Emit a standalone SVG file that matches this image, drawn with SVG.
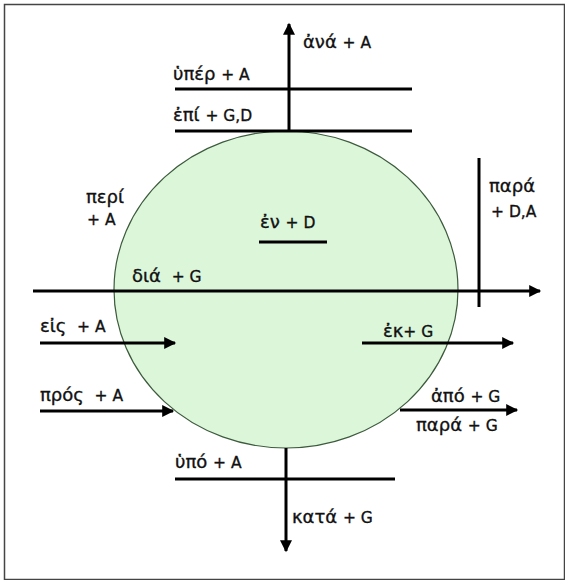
<svg xmlns="http://www.w3.org/2000/svg" width="565" height="580" viewBox="0 0 565 580">
<style>
.ln{stroke:#000;stroke-width:3;fill:none}
.ar{stroke:#000;stroke-width:3;fill:none;marker-end:url(#ah)}
.t{font-family:"DejaVu Sans","Liberation Sans",sans-serif;font-size:18px;fill:#111;stroke:#111;stroke-width:0.35}
.s{font-size:15.5px}
</style>
<defs>
<marker id="ah" viewBox="0 0 10 10" refX="9" refY="5" markerWidth="4.5" markerHeight="4" orient="auto" markerUnits="strokeWidth">
<path d="M0,0 L10,5 L0,10 z" fill="#000"/>
</marker>
</defs>
<rect x="0" y="0" width="565" height="580" fill="#fff"/>
<rect x="4.5" y="4.5" width="560" height="575" fill="none" stroke="#444" stroke-width="1.5"/>
<g id="circle">
<ellipse cx="286" cy="289.5" rx="172" ry="158.5" fill="#dcf6da" stroke="#3c5a3c" stroke-width="1.2"/>
</g>
<g id="connectors">
<line class="ar" x1="289" y1="131" x2="289" y2="24"/>
<line class="ln" x1="175" y1="89" x2="412" y2="89"/>
<line class="ln" x1="175" y1="131" x2="412" y2="131"/>
<line class="ar" x1="33" y1="291" x2="540" y2="291"/>
<line class="ln" x1="479" y1="158" x2="479" y2="307"/>
<line class="ln" x1="259" y1="242" x2="327" y2="242"/>
<line class="ar" x1="40" y1="343" x2="175" y2="343"/>
<line class="ar" x1="40" y1="411" x2="173" y2="411"/>
<line class="ar" x1="362" y1="343" x2="513" y2="343"/>
<line class="ar" x1="400" y1="410" x2="517" y2="410"/>
<line class="ln" x1="175" y1="479" x2="395" y2="479"/>
<line class="ar" x1="286" y1="448" x2="286" y2="551"/>
</g>
<g id="ana"><text class="t" x="303" y="48">ἀνά <tspan class="s">+ A</tspan></text></g>
<g id="hyper"><text class="t" x="173" y="80">ὑπέρ <tspan class="s">+ A</tspan></text></g>
<g id="epi"><text class="t" x="173" y="121">ἐπί <tspan class="s">+ G,D</tspan></text></g>
<g id="peri"><text class="t" x="86" y="203">περί</text><text class="t s" x="87" y="225">+ A</text></g>
<g id="en"><text class="t" x="260" y="228">ἐν <tspan class="s">+ D</tspan></text></g>
<g id="para1"><text class="t" x="489" y="192">παρά</text><text class="t s" x="491" y="217">+ D,A</text></g>
<g id="dia"><text class="t" x="132" y="282">διά <tspan class="s" dx="5">+ G</tspan></text></g>
<g id="eis"><text class="t" x="40" y="332">εἰς <tspan class="s" dx="5">+ A</tspan></text></g>
<g id="ek"><text class="t" x="383" y="337">ἐκ<tspan class="s">+ G</tspan></text></g>
<g id="pros"><text class="t" x="40" y="401">πρός <tspan class="s" dx="5">+ A</tspan></text></g>
<g id="apo"><text class="t" x="431" y="402">ἀπό <tspan class="s">+ G</tspan></text></g>
<g id="para2"><text class="t" x="416" y="431">παρά <tspan class="s">+ G</tspan></text></g>
<g id="hypo"><text class="t" x="175" y="468">ὑπό <tspan class="s">+ A</tspan></text></g>
<g id="kata"><text class="t" x="292" y="523">κατά <tspan class="s">+ G</tspan></text></g>
</svg>
